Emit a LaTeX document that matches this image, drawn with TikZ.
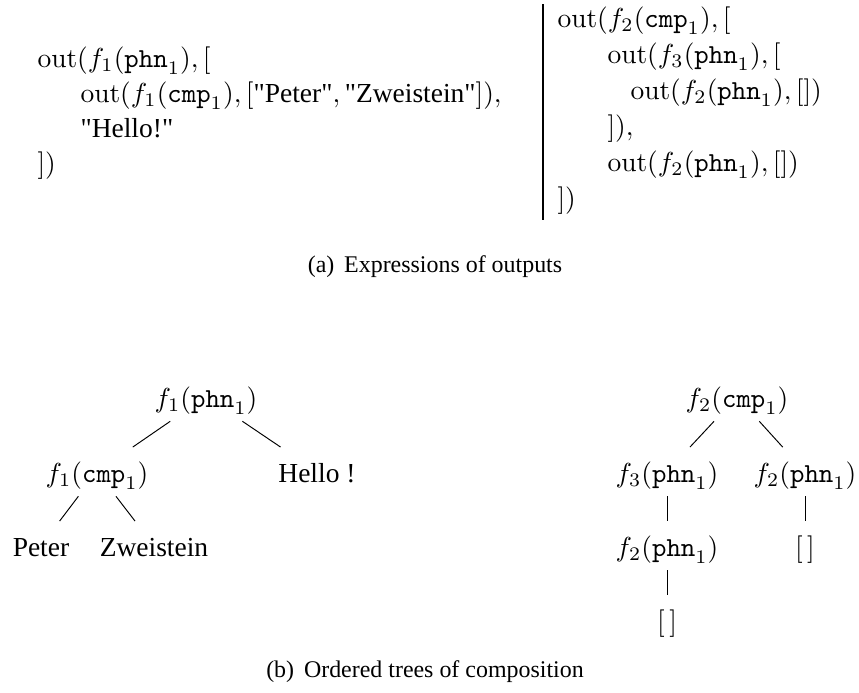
\documentclass[tikz,border=0pt]{standalone}
\usepackage[no-math]{fontspec}
\setmainfont{Liberation Serif}
\newfontfamily\qfont{Liberation Serif}
\newcommand{\myout}{\mathrm{out}}
\begin{document}
\begin{tikzpicture}[x=0.3637pt, y=-0.3637pt,
  codeline/.style={anchor=base west, inner sep=0pt},
  tnode/.style={anchor=base, inner xsep=0pt, inner ysep=0pt, text height=12.5pt, text depth=5pt},
  treeline/.style={draw, line width=0.35pt},
  capt/.style={anchor=base, inner sep=0pt, font=\fontsize{8.7}{10}\selectfont}]
\useasboundingbox (0,0) rectangle (859,693);
% left expression
\node[codeline] (l1) at (37,67) {$\myout(f_1(\mathtt{phn}_1),[$};
\node[codeline] (l2) at (80,102) {$\myout(f_1(\mathtt{cmp}_1),[\mbox{\qfont "Peter"},\mbox{\qfont "Zweistein"}]),$};
\node[codeline] (l3) at (80,137) {\qfont "Hello!"};
\node[codeline] (l4) at (37,172) {$])$};
% separator
\coordinate (bartop) at (543,4);
\coordinate (barbot) at (543,220);
\draw[line width=0.4pt] (bartop) -- (barbot);
% right expression
\node[codeline] (r1) at (557,27) {$\myout(f_2(\mathtt{cmp}_1),[$};
\node[codeline] (r2) at (607,63) {$\myout(f_3(\mathtt{phn}_1),[$};
\node[codeline] (r3) at (630,99) {$\myout(f_2(\mathtt{phn}_1),[])$};
\node[codeline] (r4) at (607,135) {$]),$};
\node[codeline] (r5) at (607,171) {$\myout(f_2(\mathtt{phn}_1),[])$};
\node[codeline] (r6) at (557,207) {$])$};
% caption a
\node[capt] (capa) at (435,272) {(a)\hspace{3.6pt}Expressions of outputs};
% left tree
\node[tnode] (t1) at (206,407) {$f_1(\mathtt{phn}_1)$};
\node[tnode] (t2) at (97,482) {$f_1(\mathtt{cmp}_1)$};
\node[tnode] (t3) at (317,482) {Hello !};
\node[tnode] (t4) at (41,556) {Peter};
\node[tnode] (t5) at (154,556) {Zweistein};
\draw[treeline] (t1) -- (t2);
\draw[treeline] (t1) -- (t3);
\draw[treeline] (t2) -- (t4);
\draw[treeline] (t2) -- (t5);
% right tree
\node[tnode] (u1) at (737,407) {$f_2(\mathtt{cmp}_1)$};
\node[tnode] (u2) at (667,482) {$f_3(\mathtt{phn}_1)$};
\node[tnode] (u3) at (805,482) {$f_2(\mathtt{phn}_1)$};
\node[tnode] (u4) at (667,556) {$f_2(\mathtt{phn}_1)$};
\node[tnode] (u5) at (805,556) {$[\,]$};
\node[tnode] (u6) at (667,630) {$[\,]$};
\draw[treeline] (u1) -- (u2);
\draw[treeline] (u1) -- (u3);
\draw[treeline] (u2) -- (u4);
\draw[treeline] (u3) -- (u5);
\draw[treeline] (u4) -- (u6);
% caption b
\node[capt] (capb) at (425,677) {(b)\hspace{3.6pt}Ordered trees of composition};
\end{tikzpicture}
\end{document}
